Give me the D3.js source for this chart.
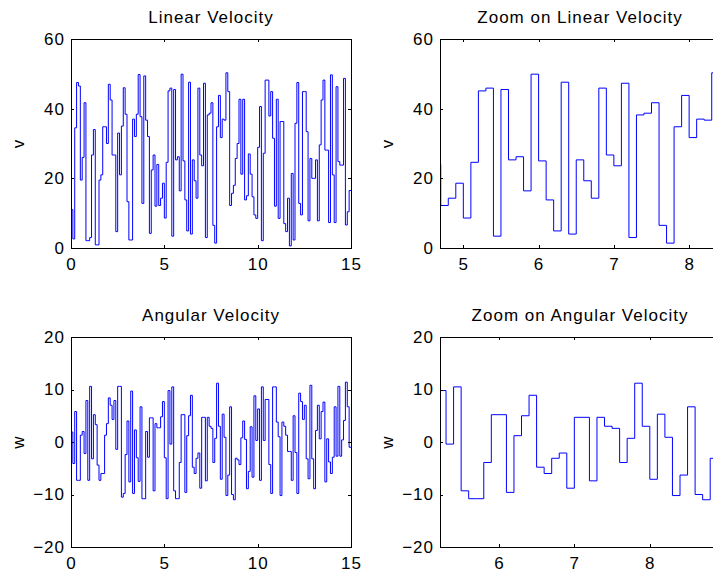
<!doctype html>
<html lang="en">
<head>
  <meta charset="utf-8">
  <title>Linear and angular velocity</title>
  <style>
    body {
      margin: 0;
      background: #fff;
    }
    svg {
      display: block;
      font-family: "Liberation Sans", Arial, Helvetica, sans-serif;
    }
    .tick line, .frame {
      stroke: #000;
      shape-rendering: crispEdges;
    }
    .tick text, .lbl {
      fill: #000;
      font-size: 17px;
      letter-spacing: 1px;
    }
    .trace {
      fill: none;
      stroke: #0000ff;
      stroke-width: 1px;
    }
  </style>
</head>
<body>
  <div id="chart"></div>

  <script src="https://d3js.org/d3.v7.min.js"></script>
  <script>
    // sample spacing of the signals (s)
    var dt = 0.1

    // linear velocity v, one value per 0.1 s from t = 0 to 14.9
    var vData = [
      11, 2.6, 34.5, 47.5, 46.5, 19.5, 26, 41.7, 2.1, 2.1,
      3, 26.7, 34, 0.9, 0.9, 19.5, 21, 34.8, 34.8, 30,
      47, 42.5, 26.7, 26.7, 4.7, 33, 21, 35, 46, 38.4,
      13.3, 2.3, 2.3, 37, 32, 38.4, 49.8, 37.7, 12.8, 49.4,
      36.7, 32, 4.2, 22.4, 26.7, 12, 24, 12.2, 14.3, 18.6,
      8.6, 24.6, 45.1, 45.9, 3.4, 45.5, 25.3, 26.2, 16.4, 49.9,
      25, 13.8, 4.9, 47.6, 4, 25.3, 19.3, 14.3, 45.9, 26.7,
      23.6, 47.3, 3, 38.2, 38.7, 41.7, 6.5, 1.4, 34.8, 43.8,
      31.7, 37, 36.7, 50.3, 44.9, 12.2, 15.7, 18, 25.7, 30,
      42.7, 21.2, 42.7, 13.8, 15, 27, 21.2, 14.7, 9.5, 8.5,
      28.9, 40.6, 2.1, 27.2, 48.2, 48.2, 37.9, 44.9, 31.5, 12,
      42.7, 8.5, 36.3, 36.3, 7, 4.7, 14.3, 0.6, 21.4, 2.3,
      35.8, 47.5, 12.8, 9.5, 44.9, 44.9, 33.4, 7.8, 25.7, 20,
      20, 25.3, 7.8, 29.6, 42.5, 48.2, 28.1, 28.1, 7.3, 49.7,
      21, 7.3, 46.3, 24.8, 23.8, 23.8, 48.7, 6.6, 10.4, 16.5
    ]

    // angular velocity w, same sampling
    var wData = [
      1.9, -4.1, 5.8, -7.3, -7.3, 1.3, 2, -2.2, 7.9, -7.3,
      10.6, -3.2, 5.2, 3.3, -4.4, -7.3, -6, -6, 1.3, 3.5,
      8.4, 7, 4.3, 7.9, -1.4, 10.6, 10.6, -10.5, -9.8, -2.4,
      4, -7.6, 9.7, -9.8, 2.3, -3, -7.5, 6.7, -10.8, -10.8,
      2, -2.9, 4.6, 4.6, -9.3, 3.5, 2.7, 2.7, 4.8, 7.7,
      -3, -10.8, 9.8, -0.4, 10.5, -9.3, -10.8, -10.8, -3.9, 5.2,
      5.2, -9.6, 1.2, 5, 8.9, -4.8, -6, -3.1, -2.1, -8.8,
      4.7, 4.7, -7.4, 4.7, 3, 2.6, -3.9, 0.7, 11.2, 3,
      -7.1, 5.3, 0.9, -10.2, -6.3, 6.7, -10, -11, -3.1, -3.4,
      -4.3, 0.8, 4, 0.5, -8.9, -5.6, 2.9, -6.7, 8.8, 0.3,
      6.3, -7.3, 10.5, 0.3, 8.1, 8.1, -4.3, -9.8, 10.5, 10.5,
      3.8, 1, -10.2, 3.8, 3, 1.3, -1.8, -1.8, -7.3, 5,
      -2, -9.8, 9.3, 7.7, 4.3, 7, -3.2, -7, 10.8, -3.2,
      -8.9, 2.2, 7, 0.6, 5.8, 7.6, -7.6, 0.6, -3.8, -6,
      -2.9, 6.7, -2.7, 10.6, -2.7, 0.4, 4.1, 11.4, 6.7, -1
    ]

    var vTicks = [0, 20, 40, 60]
    var wTicks = [-20, -10, 0, 10, 20]
    var fullTicks = [0, 5, 10, 15]
    var vZoomTicks = [5, 6, 7, 8]
    var wZoomTicks = [6, 7, 8]

    var W = 713, H = 574

    var panels = [
      {x: 71, y: 39, w: 280, h: 209, data: vData, xdom: [0, 15], ydom: [0, 60],
       xticks: fullTicks, yticks: vTicks, title: "Linear Velocity", ylab: "v"},
      {x: 440, y: 39, w: 280, h: 209, data: vData, xdom: [4.69, 8.41], ydom: [0, 60],
       xticks: vZoomTicks, yticks: vTicks, title: "Zoom on Linear Velocity", ylab: "v"},
      {x: 71, y: 337, w: 280, h: 210, data: wData, xdom: [0, 15], ydom: [-20, 20],
       xticks: fullTicks, yticks: wTicks, title: "Angular Velocity", ylab: "w"},
      {x: 440, y: 337, w: 280, h: 210, data: wData, xdom: [5.22, 8.93], ydom: [-20, 20],
       xticks: wZoomTicks, yticks: wTicks, title: "Zoom on Angular Velocity", ylab: "w"}
    ]

    var svg = d3.select("#chart").append("svg")
      .attr("width", W)
      .attr("height", H)

    var fmt = function(d) { return d < 0 ? "\u2212" + Math.abs(d) : String(d) }

    panels.forEach(function(p, k) {
      var x = d3.scaleLinear().domain(p.xdom).range([0, p.w])
      var y = d3.scaleLinear().domain(p.ydom).range([p.h, 0])
      var g = svg.append("g").attr("transform", "translate(" + p.x + "," + p.y + ")")

      g.append("clipPath").attr("id", "clip" + k)
        .append("rect").attr("width", p.w).attr("height", p.h)

      // stairs: hold each value for dt, last one held up to the end of the record
      var pts = p.data.map(function(v, i) { return [i * dt, v] })
      pts.push([p.data.length * dt, p.data[p.data.length - 1]])

      var line = d3.line()
        .x(function(d) { return x(d[0]) })
        .y(function(d) { return y(d[1]) })
        .curve(d3.curveStepAfter)

      g.append("path")
        .attr("class", "trace")
        .attr("clip-path", "url(#clip" + k + ")")
        .attr("d", line(pts))

      // inward ticks on all four sides, labels only left and bottom
      g.append("g").attr("transform", "translate(0," + p.h + ")")
        .call(d3.axisBottom(x).tickValues(p.xticks).tickFormat(fmt)
          .tickSizeInner(-3).tickSizeOuter(0).tickPadding(10))
      g.append("g")
        .call(d3.axisLeft(y).tickValues(p.yticks).tickFormat(fmt)
          .tickSizeInner(-3).tickSizeOuter(0).tickPadding(6))
      g.append("g")
        .call(d3.axisTop(x).tickValues(p.xticks).tickFormat("")
          .tickSizeInner(-3).tickSizeOuter(0))
      g.append("g").attr("transform", "translate(" + p.w + ",0)")
        .call(d3.axisRight(y).tickValues(p.yticks).tickFormat("")
          .tickSizeInner(-3).tickSizeOuter(0))

      g.selectAll(".domain").remove()
      g.selectAll(".tick text").attr("font-size", null).attr("font-family", null)

      g.append("rect")
        .attr("class", "frame")
        .attr("x", 0.5).attr("y", 0.5)
        .attr("width", p.w).attr("height", p.h)
        .attr("fill", "none")

      g.append("text")
        .attr("class", "lbl")
        .attr("x", p.w / 2)
        .attr("y", -16)
        .attr("text-anchor", "middle")
        .text(p.title)

      g.append("text")
        .attr("class", "lbl")
        .attr("transform", "translate(" + (-47) + "," + (p.h / 2) + ") rotate(-90)")
        .attr("text-anchor", "middle")
        .text(p.ylab)
    })
  </script>
</body>
</html>
